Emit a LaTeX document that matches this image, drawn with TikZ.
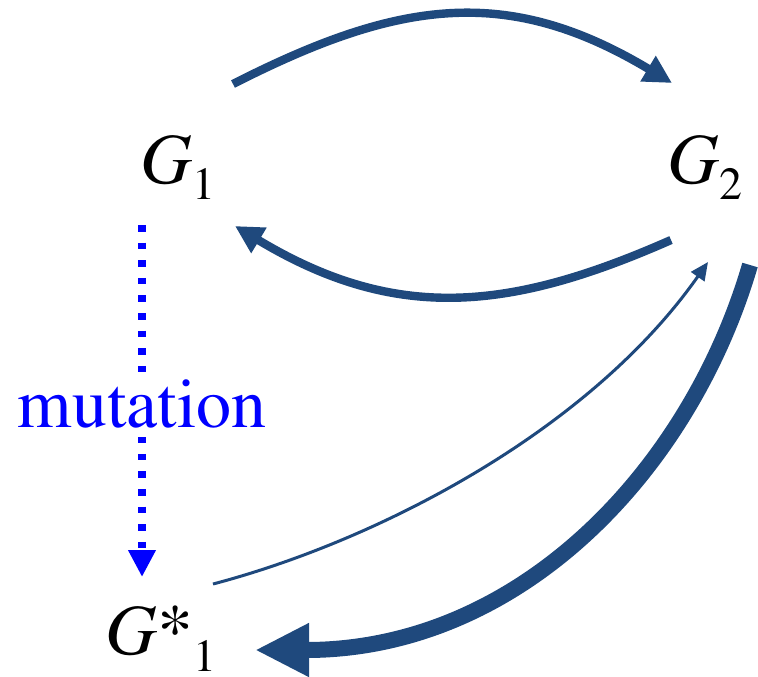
\documentclass[tikz,border=0pt]{standalone}
\usepackage[T1]{fontenc}
\usepackage{mathptmx}
\usetikzlibrary{arrows.meta}
\definecolor{arcblue}{RGB}{31,73,125}
\newcommand{\lowsub}[2][8pt]{\raisebox{-#1}{\fontsize{23}{23}\selectfont #2}}

\begin{document}
\begin{tikzpicture}[x=.5pt, y=-.5pt,
  every node/.style={font=\fontsize{36}{40}\selectfont, inner sep=0pt},
  swap/.style={draw=arcblue, line width=4.2pt, -{Triangle[length=14pt,width=14pt]}},
  weak/.style={draw=arcblue, line width=1.5pt, -{Triangle[length=9pt,width=8pt]}},
  strong/.style={draw=arcblue, line width=8pt, -{Triangle[length=27pt,width=25pt]}},
  mut/.style={draw=blue, line width=4pt, dash pattern=on 3.3pt off 5.5pt, -{Triangle[length=13.5pt,width=13pt]}}]
  \useasboundingbox (0,0) rectangle (758,676);

  \coordinate (T1) at (233,84);
  \coordinate (T2) at (672,83);
  \coordinate (B1) at (671,240);
  \coordinate (B2) at (235,226);
  \coordinate (W1) at (213,584);
  \coordinate (W2) at (708,262);
  \coordinate (S1) at (750,265);
  \coordinate (S2) at (255,650);
  \coordinate (M1) at (142,225);
  \coordinate (M2) at (142,577);

  \draw[swap] (T1) .. controls (398,0) and (507,-16) .. (T2);
  \draw[swap] (B1) .. controls (510,311) and (396,323) .. (B2);
  \draw[weak] (W1) .. controls (380,540) and (590,430) .. (W2);
  \draw[strong] (S1) .. controls (690,470) and (520,650) .. (S2);
  \draw[mut] (M1) -- node[pos=.51, fill=white, inner sep=4pt, text=blue, font=\fontsize{35}{40}\selectfont] (mutlabel) {mutation} (M2);

  \node[anchor=base west] (g1) at (140,183) {\textit{G}\lowsub{1}};
  \node[anchor=base west] (g2) at (667,183) {\textit{G}\lowsub{2}};
  \node[anchor=base west] (g1star) at (105,654) {\textit{G}*\lowsub[8.5pt]{1}};
\end{tikzpicture}
\end{document}
